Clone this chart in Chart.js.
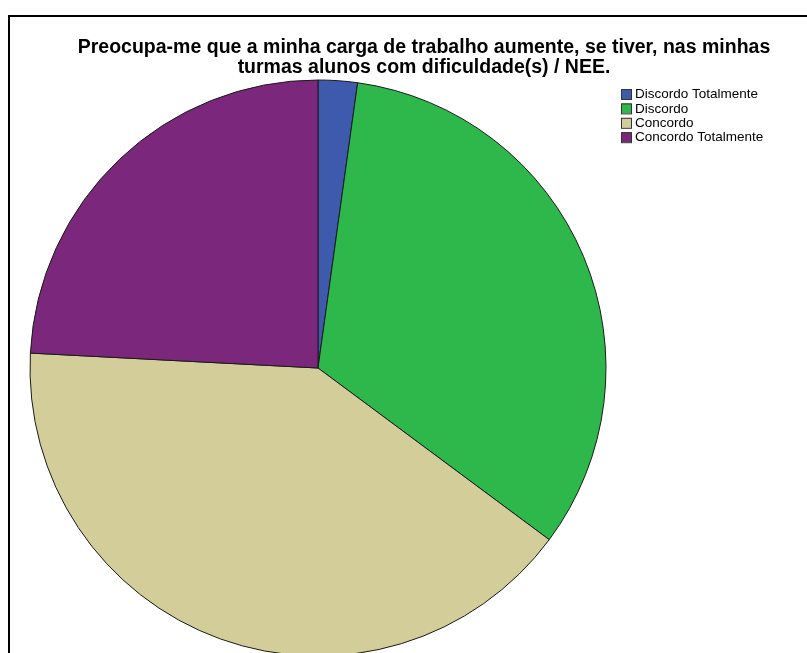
<!DOCTYPE html>
<html>
<head>
<meta charset="utf-8">
<script src="https://cdn.jsdelivr.net/npm/chart.js@4.4.1/dist/chart.umd.min.js"></script>
<style>
    html, body { margin: 0; padding: 0; background: #fff; overflow: hidden; }
    #wrap { position: relative; width: 807px; height: 680px; }
</style>
</head>
<body>
<div id="wrap"><canvas id="pieChart"></canvas></div>
<script>
// Data (counts, n = 91)
const categories = ['Discordo Totalmente', 'Discordo', 'Concordo', 'Concordo Totalmente'];
const counts = [2, 30, 37, 22];
const sliceColors = ['#3D5AAD', '#2EB84B', '#D3CE99', '#7B287C'];
const titleLines = [
    'Preocupa-me que a minha carga de trabalho aumente, se tiver, nas minhas',
    'turmas alunos com dificuldade(s) / NEE.'
];

// Frame, title and legend drawn on the canvas
const decorPlugin = {
    id: 'decor',
    afterDraw(chart) {
        const ctx = chart.ctx;
        ctx.save();

        // frame (right and bottom edges fall outside the picture)
        ctx.strokeStyle = '#000';
        ctx.lineWidth = 2;
        ctx.beginPath();
        ctx.moveTo(9, 700);
        ctx.lineTo(9, 16);
        ctx.lineTo(820, 16);
        ctx.stroke();

        // title
        ctx.fillStyle = '#000';
        ctx.font = 'bold 19.5px "Liberation Sans", Arial, sans-serif';
        ctx.textAlign = 'center';
        ctx.textBaseline = 'alphabetic';
        titleLines.forEach((line, i) => ctx.fillText(line, 424, 53 + i * 19.5));

        // legend
        ctx.font = '13.5px "Liberation Sans", Arial, sans-serif';
        ctx.textAlign = 'left';
        ctx.textBaseline = 'middle';
        categories.forEach((label, i) => {
            const y = 89 + i * 14.4;
            ctx.fillStyle = sliceColors[i];
            ctx.fillRect(621.5, y, 10, 10);
            ctx.strokeStyle = '#333';
            ctx.lineWidth = 1;
            ctx.strokeRect(621.5, y + 0.5, 10, 10);
            ctx.fillStyle = '#000';
            ctx.fillText(label, 635, y + 5.5);
        });

        ctx.restore();
    }
};

const ctx = document.getElementById('pieChart').getContext('2d');
new Chart(ctx, {
    type: 'pie',
    data: {
        labels: categories,
        datasets: [{
            data: counts,
            backgroundColor: sliceColors,
            borderColor: '#1a1a1a',
            borderWidth: 1
        }]
    },
    options: {
        responsive: true,
        maintainAspectRatio: false,
        animation: false,
        layout: {
            padding: { left: 29.5, right: 200.5, top: 79.5, bottom: 23.5 }
        },
        plugins: {
            legend: { display: false },
            title: { display: false },
            tooltip: { enabled: false }
        }
    },
    plugins: [decorPlugin]
});
</script>
</body>
</html>
